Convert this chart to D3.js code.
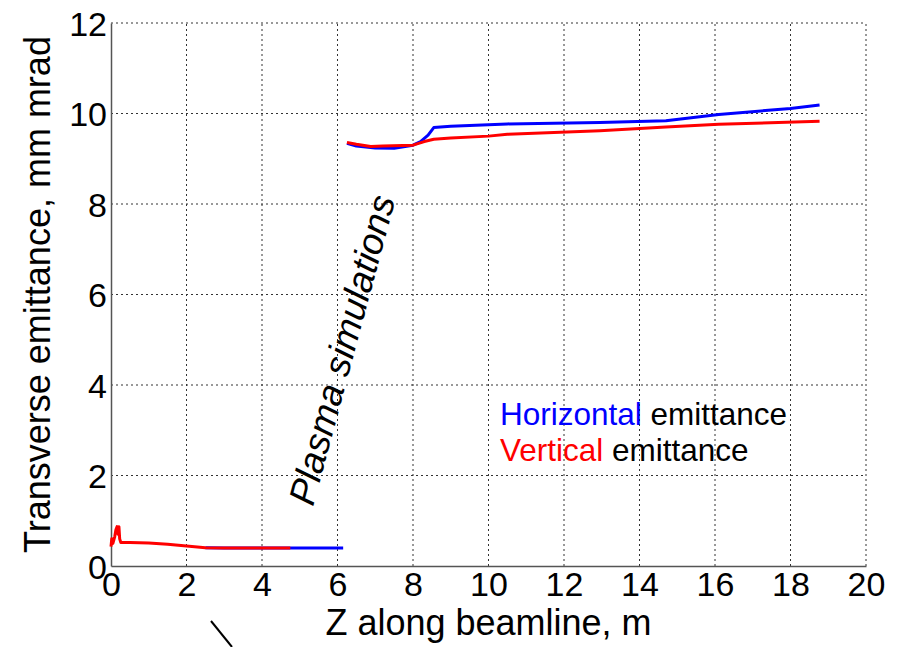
<!DOCTYPE html>
<meta charset="utf-8">
<title>Transverse emittance</title>
<style>
  body { margin: 0; background: #fff; }
  text { font-family: "Liberation Sans", Arial, sans-serif; }
  .grid line { stroke: #333; stroke-dasharray: 2,3; stroke-width: 1px; }
</style>
<body>
<script src="https://d3js.org/d3.v7.min.js"></script>
<script>

const xTicks = [0, 2, 4, 6, 8, 10, 12, 14, 16, 18, 20];
const yTicks = [0, 2, 4, 6, 8, 10, 12];

// low-energy section (z, emittance)
const redLow = [[0,0.43],[0.02,0.6],[0.05,0.5],[0.1,0.65],[0.13,0.8],[0.16,0.87],[0.19,0.7],[0.21,0.87],[0.23,0.6],[0.26,0.52],
  [0.5,0.52],[1,0.51],[1.5,0.48],[2,0.44],[2.5,0.405],[3,0.4],[4.75,0.4]];
const blueLow = [[2.5,0.405],[3,0.4],[6.15,0.4]];

// after plasma section
const blueHigh = [[6.25,9.34],[6.5,9.28],[7,9.24],[7.5,9.23],[8,9.3],[8.2,9.38],[8.4,9.52],[8.55,9.69],[9,9.72],[10,9.75],
  [10.5,9.77],[12.95,9.8],[14.7,9.84],[16.1,9.98],[18,10.11],[18.77,10.19]];
const redHigh = [[6.25,9.36],[6.5,9.32],[6.88,9.27],[7.2,9.28],[8,9.3],[8.3,9.38],[8.55,9.43],[9,9.46],[10,9.5],[10.5,9.54],
  [12.95,9.62],[14.7,9.7],[16.1,9.76],[18.77,9.83]];

const width = 899, height = 647;
const margin = { left: 111, right: 33, top: 23, bottom: 81 };

const svg = d3.select("body").append("svg")
  .attr("width", width)
  .attr("height", height);

const x = d3.scaleLinear().domain([0, 20]).range([margin.left, width - margin.right]);
const y = d3.scaleLinear().domain([0, 12]).range([height - margin.bottom, margin.top]);

// grid
const grid = svg.append("g").attr("class", "grid");
grid.selectAll(".gx").data(xTicks.filter(d => d > 0)).enter().append("line")
  .attr("x1", d => x(d)).attr("x2", d => x(d))
  .attr("y1", y(0)).attr("y2", y(12));
grid.selectAll(".gy").data(yTicks.filter(d => d > 0)).enter().append("line")
  .attr("x1", x(0)).attr("x2", x(20))
  .attr("y1", d => y(d)).attr("y2", d => y(d));

// axes
const xAxis = svg.append("g")
  .attr("transform", `translate(0,${y(0)})`)
  .call(d3.axisBottom(x).tickValues(xTicks).tickSize(0).tickPadding(6));
const yAxis = svg.append("g")
  .attr("transform", `translate(${x(0)},0)`)
  .call(d3.axisLeft(y).tickValues(yTicks).tickSize(0).tickPadding(4));

[xAxis, yAxis].forEach(a => {
  a.select(".domain").attr("stroke", "#555").attr("stroke-width", 1.5);
  a.selectAll("text").attr("fill", "#000").style("font-size", "34px")
    .style("font-family", '"Liberation Sans", Arial, sans-serif');
});
xAxis.selectAll("text").attr("dy", "0.72em");
yAxis.selectAll("text").attr("dy", "0.36em");

// lines
const line = d3.line().x(d => x(d[0])).y(d => y(d[1]));
const series = [
  { data: blueLow, color: "#0000ff" },
  { data: redLow, color: "#ff0000" },
  { data: blueHigh, color: "#0000ff" },
  { data: redHigh, color: "#ff0000" }
];
svg.selectAll(".series").data(series).enter().append("path")
  .attr("d", d => line(d.data))
  .attr("fill", "none")
  .attr("stroke", d => d.color)
  .attr("stroke-width", 3)
  .attr("stroke-linejoin", "round");

// titles
svg.append("text")
  .attr("x", (x(0) + x(20)) / 2).attr("y", 635)
  .attr("text-anchor", "middle")
  .style("font-size", "36px")
  .text("Z along beamline, m");

svg.append("text")
  .attr("transform", `translate(50,${(y(0) + y(12)) / 2}) rotate(-90)`)
  .attr("text-anchor", "middle")
  .style("font-size", "36px")
  .text("Transverse emittance, mm mrad");

// annotation
svg.append("text")
  .attr("transform", "translate(313,507) rotate(-75)")
  .style("font-size", "37px")
  .style("font-style", "italic")
  .text("Plasma simulations");

// legend
const legend = svg.append("g").style("font-size", "31.5px");
const l1 = legend.append("text").attr("x", 500).attr("y", 425);
l1.append("tspan").attr("fill", "#0000ff").text("Horizontal");
l1.append("tspan").attr("fill", "#000").text(" emittance");
const l2 = legend.append("text").attr("x", 500).attr("y", 461);
l2.append("tspan").attr("fill", "#ff0000").text("Vertical");
l2.append("tspan").attr("fill", "#000").text(" emittance");

// stray line from cropped figure
svg.append("line")
  .attr("x1", 211).attr("y1", 621).attr("x2", 232).attr("y2", 647)
  .attr("stroke", "#000").attr("stroke-width", 2);

</script>
</body>
